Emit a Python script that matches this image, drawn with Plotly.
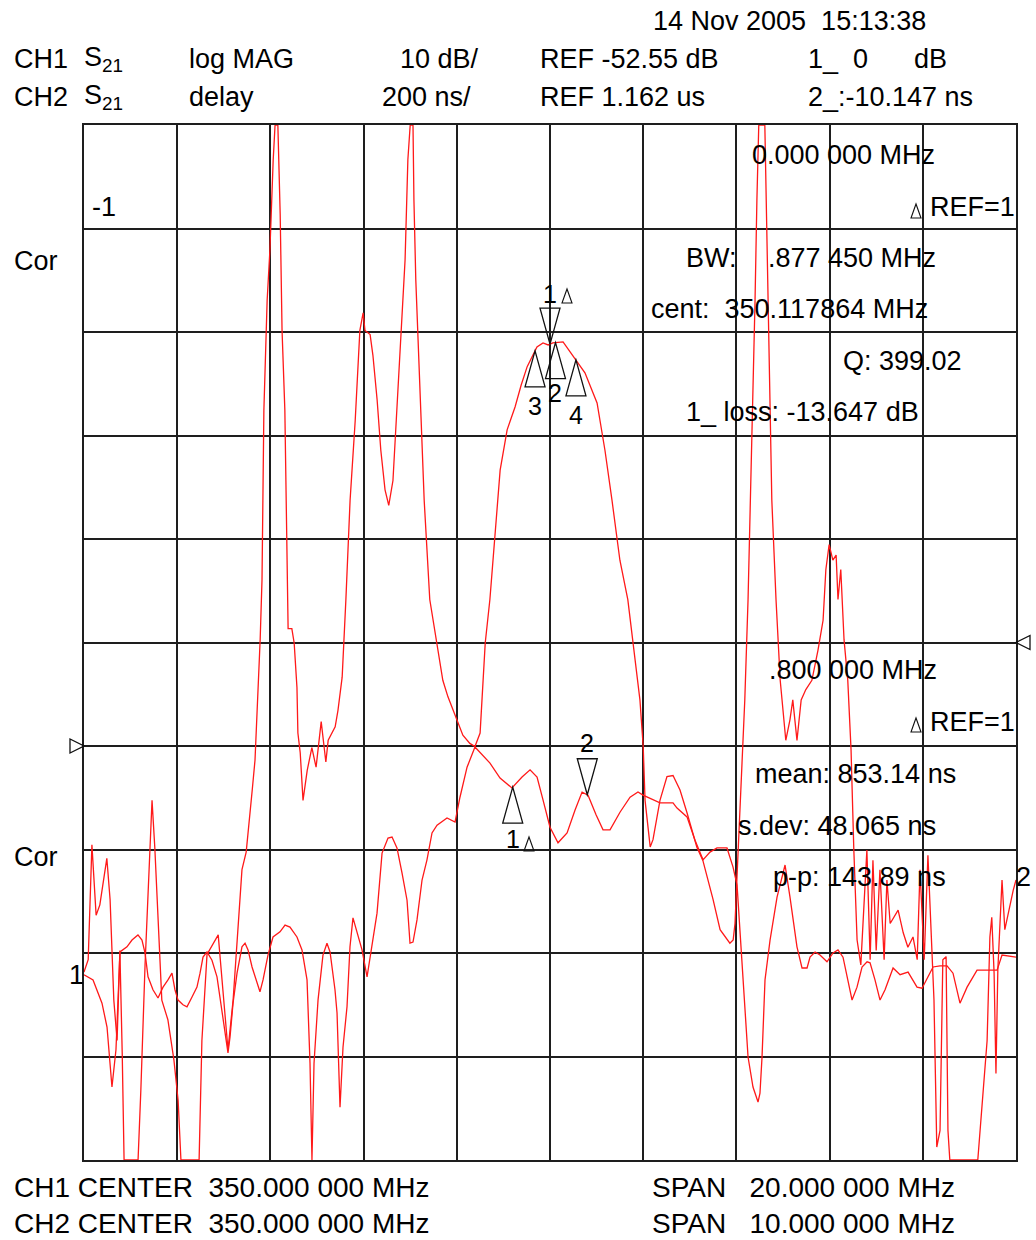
import numpy as np
import plotly.graph_objects as go

# ---------------- instrument settings ----------------
CH1_CENTER, CH1_SPAN = 350.0, 20.0        # MHz
CH2_CENTER, CH2_SPAN = 350.0, 10.0        # MHz
CH1_REF, CH1_SCALE, CH1_REFPOS = -52.55, 10.0, 4   # dB, dB/div, ref line
CH2_REF, CH2_SCALE, CH2_REFPOS = 1162.0, 200.0, 5  # ns, ns/div, ref line
NDIV = 10

# ---------------- CH1 : S21 log MAG ----------------
ch1_freq_mhz = [340.00,340.09,340.17,340.26,340.34,340.41,340.49,340.56,340.64,340.71,340.77,340.82,340.86,341.16,341.22,341.31,341.37,341.46,341.52,341.59,341.67,341.80,341.93,342.02,342.08,342.47,342.53,342.64,342.75,342.88,342.98,343.09,343.20,343.30,343.39,343.48,343.54,343.61,343.67,343.73,343.78,343.82,343.86,343.93,343.99,344.06,344.10,344.16,344.21,344.25,344.31,344.38,344.46,344.51,344.57,344.59,344.64,344.70,344.79,344.89,344.98,345.09,345.19,345.24,345.39,345.45,345.54,345.62,345.71,345.82,345.92,345.99,346.03,346.14,346.20,346.29,346.37,346.46,346.54,346.63,346.70,346.76,346.82,346.89,346.95,347.00,347.06,347.08,347.12,347.17,347.21,347.30,347.42,347.57,347.70,347.81,348.00,348.13,348.28,348.39,348.50,348.61,348.71,348.82,348.93,349.08,349.25,349.38,349.51,349.72,349.85,349.96,350.06,350.28,350.49,350.75,351.01,351.18,351.33,351.50,351.67,351.78,351.93,352.00,352.04,352.15,352.21,352.36,352.51,352.64,352.79,352.94,353.15,353.28,353.50,353.65,353.86,353.93,353.97,354.01,354.08,354.18,354.25,354.33,354.40,354.44,354.48,354.61,354.64,354.68,354.72,354.76,354.85,354.94,355.06,355.15,355.21,355.30,355.39,355.49,355.62,355.75,355.86,355.92,355.99,356.07,356.14,356.18,356.24,356.31,356.39,356.46,356.52,
                356.59,356.67,356.74,356.80,356.87,356.93,357.00,357.08,357.17,357.23,357.30,357.47,357.58,357.68,357.79,357.88,357.94,358.03,358.11,358.18,358.24,358.30,358.37,358.43,358.50,358.54,358.58,359.18,359.38,359.44,359.48,359.53,359.57,359.61,359.70,359.76,359.83,359.94,360.00]
ch1_logmag_db = [-74.4,-73.2,-62.1,-68.9,-67.9,-66.0,-63.4,-67.4,-77.1,-81.0,-72.3,-82.2,-92.55,-92.55,-85.8,-73.7,-66.8,-57.8,-62.4,-69.4,-77.1,-79.0,-82.9,-86.8,-92.55,-92.55,-81.0,-72.7,-71.8,-70.8,-76.1,-81.9,-77.1,-70.3,-64.5,-62.8,-59.7,-56.8,-53.9,-48.1,-42.3,-36.5,-20.1,-9.5,-4.6,4.1,7.45,7.45,-1.2,-12.4,-20.1,-41.2,-41.2,-42.6,-46.9,-51.3,-53.2,-57.8,-54.9,-52.7,-54.6,-50.2,-54.1,-52.0,-50.7,-49.1,-45.9,-38.4,-28.8,-21.1,-12.4,-10.7,-12.4,-12.8,-14.8,-19.1,-24.0,-27.8,-29.3,-26.9,-21.1,-17.2,-12.4,-5.6,4.1,7.45,7.45,0.2,-7.5,-13.3,-19.1,-28.8,-38.4,-42.6,-46.2,-47.8,-50.0,-51.5,-52.3,-52.6,-51.3,-42.6,-38.4,-31.7,-25.9,-22.0,-19.8,-17.7,-15.9,-14.0,-13.6,-13.8,-13.6,-13.5,-14.8,-16.5,-19.4,-24.0,-28.8,-34.6,-38.4,-42.6,-48.1,-52.6,-57.8,-62.3,-61.6,-57.8,-55.5,-55.4,-56.8,-59.0,-62.3,-63.6,-67.4,-70.3,-71.6,-71.3,-69.7,-65.5,-57.8,-48.1,-38.4,-24.0,-9.5,0.2,7.45,7.45,0.2,-9.5,-19.1,-28.8,-38.4,-46.2,-52.0,-50.0,-48.1,-52.0,-48.1,-47.1,-46.2,-43.3,-40.4,-35.5,-33.1,-34.6,-34.1,-38.4,-35.5,-42.3,-46.2,-52.9,-62.6,
                 -71.3,-73.7,-67.4,-62.6,-73.2,-63.6,-72.3,-64.5,-73.2,-65.5,-69.7,-68.4,-70.6,-72.0,-71.0,-73.2,-64.5,-73.2,-63.1,-71.3,-77.1,-91.3,-89.7,-73.2,-72.9,-89.7,-92.55,-92.55,-81.0,-71.0,-69.1,-74.5,-84.2,-74.2,-65.5,-70.3,-68.7,-66.5,-65.5]

# ---------------- CH2 : S21 delay ----------------
ch2_freq_mhz = [345.000,345.097,345.193,345.247,345.300,345.343,345.386,345.461,345.515,345.579,345.622,345.655,345.687,345.740,345.794,345.848,345.901,345.944,345.976,346.009,346.062,346.105,346.159,346.212,346.245,346.277,346.320,346.373,346.427,346.459,346.513,346.545,346.567,346.599,346.642,346.695,346.728,346.760,346.803,346.856,346.888,346.921,346.974,347.028,347.103,347.157,347.210,347.285,347.339,347.393,347.404,347.425,347.446,347.468,347.511,347.564,347.607,347.640,347.693,347.715,347.747,347.779,347.822,347.854,347.886,347.940,347.983,348.037,348.090,348.144,348.198,348.262,348.305,348.358,348.412,348.466,348.498,348.530,348.573,348.627,348.680,348.734,348.788,348.895,348.981,349.013,349.034,349.110,349.195,349.356,349.464,349.592,349.700,349.786,349.861,349.925,350.000,350.086,350.183,350.268,350.344,350.408,350.494,350.569,350.644,350.751,350.859,350.944,350.998,351.180,351.320,351.363,351.470,351.556,351.642,351.717,351.792,351.899,351.964,352.007,352.071,352.125,352.178,352.232,352.253,352.275,352.307,352.361,352.436,352.522,352.575,352.650,352.704,352.758,352.790,352.844,352.897,352.972,353.037,353.090,353.144,353.198,353.241,353.294,353.348,353.402,353.434,353.487,353.541,353.595,353.681,353.756,353.842,353.938,353.992,354.110,354.185,354.260,354.324,354.399,354.475,354.582,354.646,354.797,354.850,355.000]
ch2_delay_ns = [520,510,465,419,303,375,564,574,587,597,587,562,516,491,475,496,510,523,491,471,462,458,477,496,523,554,564,548,516,477,407,369,400,465,523,574,581,568,535,504,487,510,558,593,603,616,612,593,568,510,446,349,162,349,471,558,581,564,491,446,264,380,458,574,630,597,568,516,574,639,755,784,786,765,717,664,581,583,626,703,742,794,809,823,815,844,863,921,960,929,900,881,902,916,902,858,805,775,794,838,873,867,829,800,800,834,863,873,867,852,852,842,825,780,742,757,765,765,728,693,510,361,303,274,291,361,510,587,670,732,670,574,533,533,554,564,558,545,562,568,554,510,471,496,535,545,543,510,471,491,533,520,525,496,494,535,537,537,523,465,496,529,529,529,558,554]

# ---------------- markers ----------------
ch1_marker_mhz = [350.0, 350.117864, 349.6789, 350.5568]   # 1, 2, 3, 4
ch1_marker_lbl = ["1", "2", "3", "4"]
ch2_marker_mhz = [349.6, 350.4]
ch2_marker_lbl = ["1", "2"]

W, H = 1036, 1240
PX0, PX1, PY0, PY1 = 84, 1016, 125, 1160   # plot-area edges (pixels)

RED = "rgb(255,25,25)"
GRID = "#1e1e1e"
FONT = "Liberation Sans, Arial, sans-serif"

ch1_range = [CH1_REF - CH1_REFPOS * CH1_SCALE, CH1_REF + (NDIV - CH1_REFPOS) * CH1_SCALE]
ch2_range = [CH2_REF - CH2_REFPOS * CH2_SCALE, CH2_REF + (NDIV - CH2_REFPOS) * CH2_SCALE]
ch1_x = [CH1_CENTER - CH1_SPAN / 2, CH1_CENTER + CH1_SPAN / 2]
ch2_x = [CH2_CENTER - CH2_SPAN / 2, CH2_CENTER + CH2_SPAN / 2]

fig = go.Figure()
fig.add_trace(go.Scatter(x=ch1_freq_mhz, y=ch1_logmag_db, mode="lines",
                         line=dict(color=RED, width=1.3), xaxis="x", yaxis="y",
                         hoverinfo="skip", showlegend=False))
fig.add_trace(go.Scatter(x=ch2_freq_mhz, y=ch2_delay_ns, mode="lines",
                         line=dict(color=RED, width=1.3), xaxis="x2", yaxis="y2",
                         hoverinfo="skip", showlegend=False))

xdom = [PX0 / W, PX1 / W]
ydom = [1 - PY1 / H, 1 - PY0 / H]
fig.update_layout(
    width=W, height=H, margin=dict(l=0, r=0, t=0, b=0),
    paper_bgcolor="white", plot_bgcolor="white", showlegend=False,
    xaxis=dict(domain=xdom, range=ch1_x, tick0=ch1_x[0], dtick=CH1_SPAN / NDIV,
               showgrid=True, gridcolor=GRID, gridwidth=1.6, showticklabels=False,
               ticks="", zeroline=False, showline=True, linecolor=GRID,
               linewidth=1.6, mirror=True, fixedrange=True),
    yaxis=dict(domain=ydom, range=ch1_range, tick0=ch1_range[0], dtick=CH1_SCALE,
               showgrid=True, gridcolor=GRID, gridwidth=1.6, showticklabels=False,
               ticks="", zeroline=False, showline=True, linecolor=GRID,
               linewidth=1.6, mirror=True, fixedrange=True),
    xaxis2=dict(domain=xdom, range=ch2_x, overlaying="x", visible=False, anchor="y2"),
    yaxis2=dict(domain=ydom, range=ch2_range, overlaying="y", visible=False, anchor="x2"),
)

def P(px, py):
    return px / W, 1 - py / H

ann = []
def txt(s, px, py, size=27, xanchor="left", family=FONT):
    x, y = P(px, py)
    ann.append(dict(text=s, x=x, y=y, xref="paper", yref="paper", xanchor=xanchor,
                    yanchor="middle", showarrow=False,
                    font=dict(family=family, size=size, color="black")))

NB = "\u00a0"
# header
txt(f"14 Nov 2005{NB}{NB}15:13:38", 651, 21)
txt("CH1", 12, 59); txt("S<sub>21</sub>", 82, 59); txt("log MAG", 187, 59)
txt("10 dB/", 398, 59); txt("REF -52.55 dB", 538, 59)
txt(f"1_{NB}{NB}0", 806, 59); txt("dB", 912, 59)
txt("CH2", 12, 97); txt("S<sub>21</sub>", 82, 97); txt("delay", 187, 97)
txt("200 ns/", 380, 97); txt("REF 1.162 us", 538, 97)
txt("2_:-10.147 ns", 806, 97)
# footer
txt(f"CH1 CENTER{NB}{NB}350.000 000 MHz", 12, 1187, size=28)
txt(f"CH2 CENTER{NB}{NB}350.000 000 MHz", 12, 1223, size=28)
txt(f"SPAN{NB}{NB}{NB}20.000 000 MHz", 650, 1187, size=28)
txt(f"SPAN{NB}{NB}{NB}10.000 000 MHz", 650, 1223, size=28)
# side labels
txt("Cor", 12, 261); txt("Cor", 12, 857)
txt("-1", 90, 207)
txt("1", 67, 975)
txt("2", 1014, 877)
# CH1 marker readout
txt("0.000 000 MHz", 750, 155)
txt("REF=1", 928, 207)
txt("BW:", 684, 258); txt(".877 450 MHz", 766, 258)
txt(f"cent:{NB}{NB}350.117864 MHz", 649, 309)
txt("Q: 399.02", 841, 361)
txt("1_ loss: -13.647 dB", 684, 412)
# CH2 marker readout
txt(".800 000 MHz", 767, 670)
txt("REF=1", 928, 722)
txt("mean: 853.14 ns", 753, 774)
txt("s.dev: 48.065 ns", 736, 826)
txt("p-p: 143.89 ns", 771, 877)

shapes = []
def tri_path(w, h, apex_down):
    # apex at anchor; positive pixel y is up
    if apex_down:
        return f"M {-w/2},{h} L {w/2},{h} L 0,0 Z"
    return f"M {-w/2},{-h} L {w/2},{-h} L 0,0 Z"

def add_tri(xa, ya, xref, yref, apex_down, w=20, h=36, color="#111"):
    shapes.append(dict(type="path", xref=xref, yref=yref, xsizemode="pixel",
                       ysizemode="pixel", xanchor=xa, yanchor=ya,
                       path=tri_path(w, h, apex_down),
                       line=dict(color=color, width=1.3), fillcolor="rgba(0,0,0,0)"))

def small_delta(px, py):
    # small open delta glyph (paper anchored)
    x, y = P(px, py)
    shapes.append(dict(type="path", xref="paper", yref="paper", xsizemode="pixel",
                       ysizemode="pixel", xanchor=x, yanchor=y,
                       path="M -5,-7 L 5,-7 L 0,7 Z",
                       line=dict(color="#111", width=1.1), fillcolor="rgba(0,0,0,0)"))

small_delta(916, 211)
small_delta(916, 725)

# CH1 markers
ch1_vals = np.interp(ch1_marker_mhz, ch1_freq_mhz, ch1_logmag_db)
label_shift = {"1": 50, "2": -50, "3": -55, "4": -55}
for i, (f, v, lab) in enumerate(zip(ch1_marker_mhz, ch1_vals, ch1_marker_lbl)):
    down = (i == 0)
    add_tri(f, v, "x", "y", down)
    ann.append(dict(text=lab, x=f, y=v, xref="x", yref="y", xanchor="center",
                    yanchor="middle", yshift=label_shift[lab], showarrow=False,
                    font=dict(family=FONT, size=25, color="black")))
small_delta(567, 296)

# CH2 markers
ch2_vals = np.interp(ch2_marker_mhz, ch2_freq_mhz, ch2_delay_ns)
for f, v, lab in zip(ch2_marker_mhz, ch2_vals, ch2_marker_lbl):
    down = (lab == "2")
    add_tri(f, v, "x2", "y2", down)
    ann.append(dict(text=lab, x=f, y=v, xref="x2", yref="y2", xanchor="center",
                    yanchor="middle", yshift=52 if down else -52, showarrow=False,
                    font=dict(family=FONT, size=25, color="black")))
small_delta(529, 844)

# reference-position triangles
add_tri(PX0 / W, CH1_REF, "paper", "y", False)
shapes[-1]["path"] = "M -14,7 L -14,-7 L 0,0 Z"
add_tri(PX1 / W, CH2_REF, "paper", "y2", False)
shapes[-1]["path"] = "M 14,7 L 14,-7 L 0,0 Z"

fig.update_layout(annotations=ann, shapes=shapes)
fig.write_html("out.html", config={"displayModeBar": False},
               post_script="document.body.style.margin='0';document.body.style.padding='0';")
